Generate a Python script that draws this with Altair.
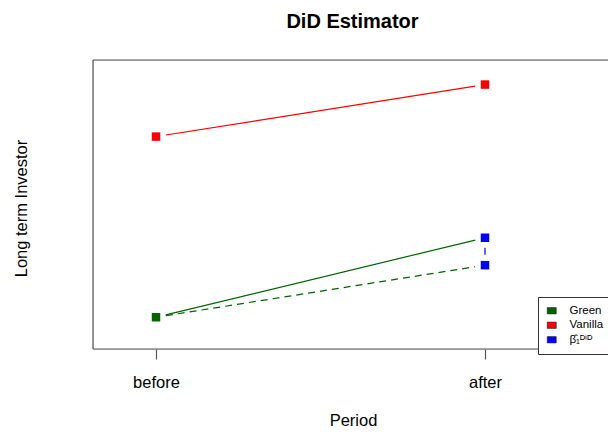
import math
import altair as alt
import pandas as pd

# ---- data ----
periods = ["before", "after"]
period_x = [1, 2]
green_vals = [0.11, 0.385]          # Green group, before / after
vanilla_vals = [0.735, 0.915]       # Vanilla group, before / after
counterfactual_after = 0.29         # Green "after" without treatment
beta_label = "β̂₁ᴰⁱᴰ"
series_names = ["Green", "Vanilla", beta_label]
series_colors = ["#006400", "#ff0000", "#0000ff"]

FONT = "Liberation Sans"
W, H = 515, 289
XDOM = [0.8085, 2.3739]
YDOM = [0.0, 1.0]
KX = W / (XDOM[1] - XDOM[0])
KY = H / (YDOM[1] - YDOM[0])
GAP = 10  # px gap of R's type="b" lines next to the points

points = pd.DataFrame({
    "series": ["Green", "Vanilla", "Vanilla", beta_label, beta_label],
    "x": [period_x[0], period_x[0], period_x[1], period_x[1], period_x[1]],
    "y": [green_vals[0], vanilla_vals[0], vanilla_vals[1], green_vals[1], counterfactual_after],
})


def seg(xa, ya, xb, yb, kind):
    L = math.hypot((xb - xa) * KX, (yb - ya) * KY)
    f = GAP / L
    return {"x": xa + f * (xb - xa), "y": ya + f * (yb - ya),
            "x2": xb - f * (xb - xa), "y2": yb - f * (yb - ya), "kind": kind}


segs = pd.DataFrame([
    seg(period_x[0], vanilla_vals[0], period_x[1], vanilla_vals[1], "red"),
    seg(period_x[0], green_vals[0], period_x[1], green_vals[1], "green"),
    seg(period_x[0], green_vals[0], period_x[1], counterfactual_after, "greendash"),
    seg(period_x[1], green_vals[1], period_x[1], counterfactual_after, "bluedash"),
])

xs = alt.Scale(domain=XDOM, nice=False, zero=False)
ys = alt.Scale(domain=YDOM, nice=False, zero=False)

xaxis = alt.Axis(
    values=period_x, labelExpr="datum.value == 1 ? 'before' : 'after'",
    title="Period", domain=False, grid=False, tickSize=10, tickColor="#555",
    tickWidth=1.2, labelFont=FONT, labelFontSize=16.5, labelColor="black",
    labelBaseline="alphabetic", labelPadding=28, titleFont=FONT,
    titleFontSize=16.5, titleFontWeight="normal", titleColor="black",
    titleBaseline="alphabetic", titleY=76, titleX=260,
)
yaxis = alt.Axis(
    title="Long term Investor", labels=False, ticks=False, domain=False,
    grid=False, titleFont=FONT, titleFontSize=16.5, titleFontWeight="normal",
    titleColor="black", titleBaseline="alphabetic", titleX=-67, titleY=148,
    titleAngle=270,
)


def rule_layer(kind, color, dash=None):
    kw = dict(color=color, strokeWidth=1.2)
    if dash:
        kw["strokeDash"] = dash
    return alt.Chart(segs).transform_filter(alt.datum.kind == kind).mark_rule(**kw).encode(
        x=alt.X("x:Q", scale=xs, axis=xaxis),
        x2="x2:Q",
        y=alt.Y("y:Q", scale=ys, axis=yaxis),
        y2="y2:Q",
    )


frame_df = pd.DataFrame({"a": [0]})
frame_top = alt.Chart(frame_df).mark_rule(color="#555", strokeWidth=1.2).encode(
    x=alt.value(0), x2=alt.value(W), y=alt.value(0))
frame_left = alt.Chart(frame_df).mark_rule(color="#555", strokeWidth=1.2).encode(
    x=alt.value(0), y=alt.value(0), y2=alt.value(H))
frame_bottom = alt.Chart(frame_df).mark_rule(color="#555", strokeWidth=1.2).encode(
    x=alt.value(0), x2=alt.value(W), y=alt.value(H))

pts = alt.Chart(points).mark_point(shape="square", filled=True, size=72, opacity=1).encode(
    x=alt.X("x:Q", scale=xs, axis=xaxis),
    y=alt.Y("y:Q", scale=ys, axis=yaxis),
    color=alt.Color(
        "series:N",
        scale=alt.Scale(domain=series_names, range=series_colors),
        legend=alt.Legend(
            title=None, orient="none", legendX=445, legendY=237,
            symbolType="M-1,-0.7H1V0.7H-1Z", symbolSize=81,
            symbolStrokeColor="#000", symbolStrokeWidth=0.5,
            labelFont=FONT, labelFontSize=11.5, labelColor="black",
            labelOffset=12, rowPadding=1.5, padding=8,
            strokeColor="#333", fillColor="white",
        ),
    ),
)

chart = alt.layer(
    rule_layer("red", "#ff0000"),
    rule_layer("green", "#006400"),
    rule_layer("greendash", "#006400", [7, 5]),
    rule_layer("bluedash", "#0000ff", [7, 5]),
    pts,
    frame_top, frame_left, frame_bottom,
).properties(
    width=W, height=H,
    title=alt.TitleParams("DiD Estimator", font=FONT, fontSize=20, fontWeight="bold",
                          color="black", anchor="middle", baseline="alphabetic",
                          offset=11, dx=2),
    autosize=alt.AutoSizeParams(type="none"),
    padding={"left": 93, "top": 60, "right": 0, "bottom": 83},
).configure_view(strokeOpacity=0).configure(background="white")

chart.save("out.html", embed_options={"renderer": "svg", "actions": False})
